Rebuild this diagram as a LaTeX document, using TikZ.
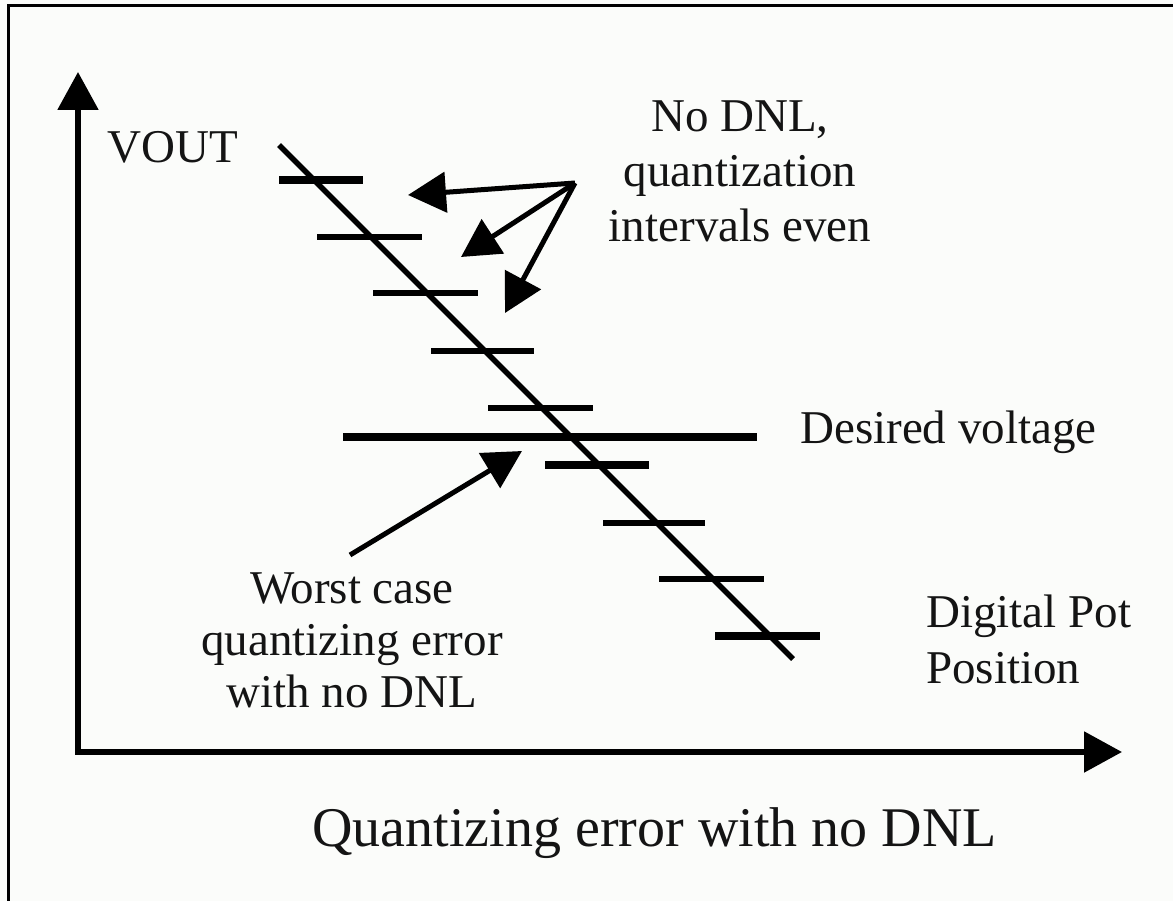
\documentclass[tikz,border=0pt]{standalone}
\usepackage{fontspec}
\setmainfont{Liberation Serif}
\usetikzlibrary{arrows.meta}
\definecolor{bg}{RGB}{251,252,250}
\definecolor{ink}{RGB}{20,20,20}
\begin{document}
\begin{tikzpicture}[x=1pt,y=-1pt,
  ln/.style={line width=5.5pt,draw=black},
  thk/.style={line width=7.5pt,draw=black},
  arr/.style={line width=5pt,-{Triangle[length=38pt,width=40pt]}},
  lbl/.style={inner sep=0pt,text=ink,font=\fontsize{47}{55}\selectfont}]
\fill[bg] (0,0) rectangle (1173,901);
\useasboundingbox (0,0) rectangle (1173,901);
% frame (cropped)
\draw[line width=3pt] (8.5,901) -- (8.5,6) -- (1173,6);
% axes
\coordinate (O) at (78,752);
\coordinate (Ytip) at (78,72);
\coordinate (Xtip) at (1122,752);
\draw[line width=5.5pt,{Triangle[length=38pt,width=40pt]}-{Triangle[length=38pt,width=40pt]}] (Ytip) -- (O) -- (Xtip);
% diagonal
\coordinate (d0) at (279,145);
\coordinate (d1) at (793,659);
\draw[ln] (d0) -- (d1);
% quantization steps
\draw[thk] (279,180) -- (363,180);
\draw[ln] (317,237) -- (422,237);
\draw[ln] (373,293) -- (478,293);
\draw[ln] (431,351) -- (534,351);
\draw[ln] (488,408) -- (593,408);
\draw[thk] (545,465) -- (649,465);
\draw[ln] (603,523) -- (705,523);
\draw[ln] (659,579) -- (764,579);
\draw[thk] (715,636) -- (820,636);
% desired voltage
\draw[line width=8pt] (343,437) -- (757,437);
% labels (base anchor of a multi-line node = baseline of its last line)
\node[lbl,anchor=base west] (vout) at (107,163) {VOUT};
\node[lbl,align=center,anchor=base] (nodnl) at (740,242) {No DNL,\\quantization\\intervals even};
\node[lbl,anchor=base west] (desired) at (800,443) {Desired voltage};
\node[lbl,align=left,anchor=base west,font=\fontsize{47}{56}\selectfont] (pot) at (926,683) {Digital Pot\\Position};
\node[lbl,align=center,anchor=base,font=\fontsize{47}{52}\selectfont] (worst) at (352,707) {Worst case\\quantizing error\\with no DNL};
\node[inner sep=0pt,text=ink,font=\fontsize{56}{60}\selectfont,anchor=base] (title) at (654.5,846) {Quantizing error with no DNL};
% arrows
\coordinate (src) at (575,183);
\coordinate (t1) at (408,195);
\coordinate (t2) at (461,257);
\coordinate (t3) at (505,313);
\draw[arr] (src) -- (t1);
\draw[arr] (src) -- (t2);
\draw[arr] (src) -- (t3);
\coordinate (wsrc) at (350,555);
\coordinate (wtip) at (522,451);
\draw[arr] (wsrc) -- (wtip);
\end{tikzpicture}
\end{document}
